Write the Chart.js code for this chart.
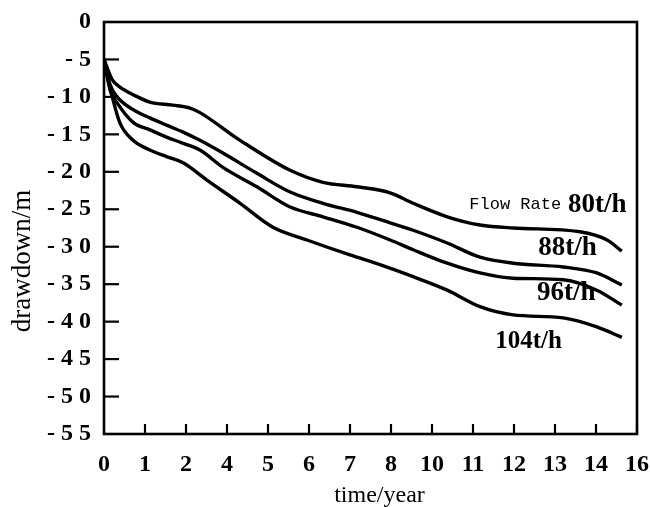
<!DOCTYPE html>
<html><head><meta charset="utf-8">
<style>html,body{margin:0;padding:0;background:#fff;} canvas{display:block;}</style>
<script src="https://cdn.jsdelivr.net/npm/chart.js@4.4.1/dist/chart.umd.min.js"></script>
</head><body>
<canvas id="c" width="650" height="507"></canvas>
<script>
// Tick labels along the (evenly spaced) time axis
const xTickLabels = ['0','1','2','4','5','6','7','8','10','11','12','13','14','16'];
const seriesNames = ['80t/h','88t/h','96t/h','104t/h'];

// positions are in tick-slot units along the time axis
const x80  = [0,0.2,0.39,0.71,1.12,1.68,2.1,2.34,3.32,4.54,5.34,6.17,6.98,7.54,8.37,9.17,9.98,11.61,12.27,12.63];
const y80  = [-5,-7.7,-8.7,-9.7,-10.7,-11.1,-11.5,-12.1,-15.8,-19.8,-21.4,-22.0,-22.8,-24.2,-26.0,-27.1,-27.5,-28.0,-29.1,-30.6];

const x88  = [0,0.15,0.32,0.71,1.12,1.54,1.93,2.34,2.9,3.73,4.54,5.34,6.17,6.98,7.54,8.37,9.17,9.98,11.2,12.02,12.63];
const y88  = [-5,-8.4,-10,-11.7,-12.8,-13.8,-14.7,-15.8,-17.5,-20.2,-22.7,-24.2,-25.4,-26.8,-27.8,-29.5,-31.4,-32.2,-32.7,-33.5,-35.1];

const x96  = [0,0.15,0.32,0.71,1.12,1.54,1.93,2.34,2.9,3.73,4.54,5.34,6.17,6.98,7.54,8.37,9.17,9.98,11.2,12.02,12.63];
const y96  = [-5,-9.1,-10.8,-13.4,-14.4,-15.4,-16.2,-17.1,-19.4,-22,-24.7,-26.0,-27.4,-29.1,-30.4,-32.2,-33.5,-34.2,-34.4,-35.8,-37.8];

const x104 = [0,0.1,0.22,0.39,0.71,1.12,1.54,1.93,2.51,3.32,4.12,4.95,6.0,6.73,7.54,8.37,9.17,9.98,11.2,12.02,12.63];
const y104 = [-5,-7.7,-10.4,-13.5,-15.8,-17.1,-18.0,-18.8,-21.1,-24.2,-27.4,-29.1,-31.1,-32.4,-34.0,-35.8,-38.0,-39.1,-39.5,-40.7,-42.1];

const xs = [x80, x88, x96, x104];
const ys = [y80, y88, y96, y104];

function pts(xa, ya){ return xa.map((v,i)=>({x:v, y:ya[i]})); }

const datasets = seriesNames.map((n,i)=>({
  label: n,
  data: pts(xs[i], ys[i]),
  borderColor: '#000',
  borderWidth: 3.4,
  pointRadius: 0,
  fill: false,
  cubicInterpolationMode: 'monotone'
}));

// curve label anchors (data coordinates)
const labelAnchors = [
  {x: 11.32, y: -24.4},
  {x: 10.59, y: -30.2},
  {x: 10.56, y: -36.2},
  {x: 9.54,  y: -42.6}
];

const deco = {
  id: 'deco',
  afterDraw(chart){
    const {ctx, chartArea: a, scales: {x, y}} = chart;
    ctx.save();
    ctx.strokeStyle = '#000';
    ctx.fillStyle = '#000';
    ctx.lineWidth = 2.6;
    ctx.strokeRect(a.left, a.top, a.right - a.left, a.bottom - a.top);
    ctx.lineWidth = 2.2;
    y.ticks.forEach(t => {
      if (t.value === y.min || t.value === y.max) return;
      const py = y.getPixelForValue(t.value);
      ctx.beginPath(); ctx.moveTo(a.left, py); ctx.lineTo(a.left + 15, py); ctx.stroke();
    });
    x.ticks.forEach(t => {
      if (t.value === x.min) return;
      const px = x.getPixelForValue(t.value);
      ctx.beginPath(); ctx.moveTo(px, a.bottom); ctx.lineTo(px, a.bottom - 10); ctx.stroke();
    });
    // curve labels
    ctx.textBaseline = 'middle';
    ctx.textAlign = 'left';
    const p0x = x.getPixelForValue(labelAnchors[0].x), p0y = y.getPixelForValue(labelAnchors[0].y);
    ctx.font = 'bold 27px "Liberation Serif"';
    ctx.fillText(seriesNames[0], p0x, p0y);
    ctx.font = '17px "Liberation Mono"';
    ctx.textAlign = 'right';
    ctx.fillText('Flow Rate', p0x - 7, p0y);
    ctx.textAlign = 'left';
    for (let i = 1; i < 4; i++) {
      ctx.font = i === 3 ? 'bold 25px "Liberation Serif"' : 'bold 27px "Liberation Serif"';
      ctx.fillText(seriesNames[i], x.getPixelForValue(labelAnchors[i].x), y.getPixelForValue(labelAnchors[i].y));
    }
    // axis titles
    ctx.font = '24px "Liberation Serif"';
    ctx.textAlign = 'center';
    ctx.textBaseline = 'alphabetic';
    ctx.fillText('time/year', (a.left + a.right) / 2 + 9, 502);
    ctx.translate(30, (a.top + a.bottom) / 2 + 33);
    ctx.rotate(-Math.PI / 2);
    ctx.font = '27px "Liberation Serif"';
    ctx.fillText('drawdown/m', 0, 0);
    ctx.restore();
  }
};

new Chart(document.getElementById('c'), {
  type: 'line',
  data: { datasets },
  plugins: [deco],
  options: {
    responsive: false,
    animation: false,
    devicePixelRatio: 1,
    layout: { padding: { top: 22, right: 13, left: 0, bottom: 0 } },
    plugins: { legend: { display: false }, tooltip: { enabled: false } },
    scales: {
      x: {
        type: 'linear', min: 0, max: 13,
        grid: { display: false, drawTicks: false },
        border: { display: false },
        afterFit: s => { s.height = 73; s.paddingLeft = 0; s.paddingRight = 0; },
        ticks: {
          stepSize: 1, autoSkip: false, maxRotation: 0, padding: 16,
          color: '#000',
          font: { family: '"Liberation Serif"', size: 24, weight: 'bold' },
          callback: v => xTickLabels[v]
        }
      },
      y: {
        type: 'linear', min: -55, max: 0,
        grid: { display: false, drawTicks: false },
        border: { display: false },
        afterFit: s => { s.width = 104; s.paddingTop = 0; s.paddingBottom = 0; },
        ticks: {
          stepSize: 5, padding: 13,
          color: '#000',
          font: { family: '"Liberation Serif"', size: 24, weight: 'bold' },
          callback: v => String(v).split('').join(' ')
        }
      }
    }
  }
});
</script>
</body></html>
